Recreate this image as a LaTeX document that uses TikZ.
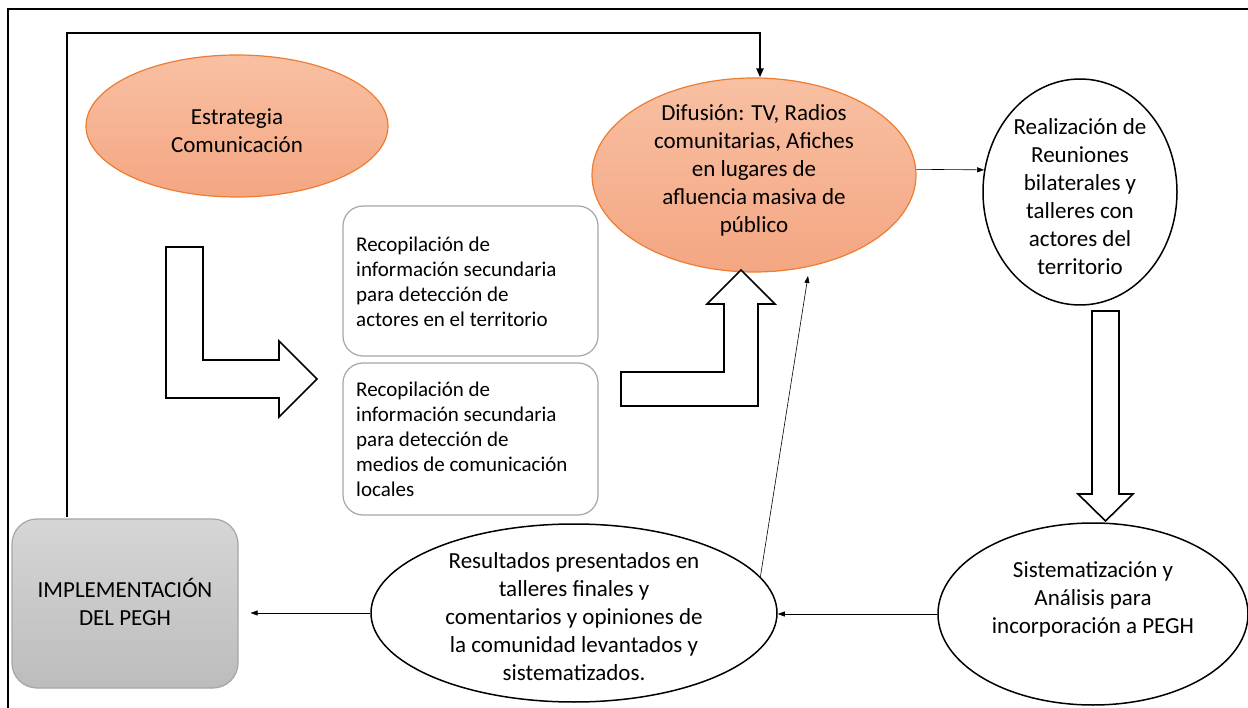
\documentclass[tikz,border=0pt]{standalone}
\usepackage{fontspec}
\setmainfont{Carlito}
\usetikzlibrary{arrows.meta,shapes.geometric}
\definecolor{ortop}{RGB}{248,192,163}
\definecolor{orbot}{RGB}{244,166,130}
\definecolor{orline}{RGB}{237,125,49}
\definecolor{gtop}{RGB}{214,214,214}
\definecolor{gbot}{RGB}{188,188,188}
\definecolor{gline}{RGB}{166,166,166}
\begin{document}
\begin{tikzpicture}[x=1pt,y=-1pt,
  orell/.style={ellipse,draw=orline,line width=1.2pt,top color=ortop,bottom color=orbot,inner sep=0pt},
  wellipse/.style={ellipse,draw=black,line width=1.5pt,fill=white,inner sep=0pt},
  txt/.style={align=center,font=\fontsize{23}{28}\selectfont,inner sep=0pt},
  boxtxt/.style={align=left,font=\fontsize{21}{25}\selectfont,inner sep=0pt,anchor=west},
  rbox/.style={draw=gline,line width=1.2pt,rounded corners=20pt,fill=white,inner sep=0pt},
  graybox/.style={draw=gline,line width=1.2pt,rounded corners=25pt,top color=gtop,bottom color=gbot,inner sep=0pt},
  thinarrow/.style={-{Triangle[length=7pt,width=5pt]},line width=0.6pt},
  boldarrow/.style={-{Triangle[length=9pt,width=7pt]},line width=2.6pt},
  blockarrow/.style={draw=black,line width=1.6pt,fill=white,line join=miter}
]
\useasboundingbox (0,0) rectangle (1248,708);
\fill[white] (0,0) rectangle (1248,708);
% outer frame
\draw[line width=1.5pt] (8,708) -- (8,9) -- (1248,9);

% ellipses
\node[orell,minimum width=302pt,minimum height=142pt] (est) at (237,126) {};
\node[txt] (est-t) at (237,131) {Estrategia\\Comunicación};

\node[orell,minimum width=324pt,minimum height=194pt] (dif) at (754,175) {};
\node[txt] (dif-t) at (754,170) {Difusión: TV, Radios\\comunitarias, Afiches\\en lugares de\\afluencia masiva de\\público};

\node[wellipse,minimum width=194pt,minimum height=226pt] (rea) at (1080,192) {};
\node[txt] (rea-t) at (1080,197) {Realización de\\Reuniones\\bilaterales y\\talleres con\\actores del\\territorio};

\node[wellipse,minimum width=310pt,minimum height=182pt] (sis) at (1093,614) {};
\node[txt] (sis-t) at (1093,599) {Sistematización y\\Análisis para\\incorporación a PEGH};

\node[wellipse,minimum width=406pt,minimum height=178pt] (res) at (574,613) {};
\node[txt] (res-t) at (574,617) {Resultados presentados en\\talleres finales y\\comentarios y opiniones de\\la comunidad levantados y\\sistematizados.};

% boxes
\node[rbox,minimum width=255pt,minimum height=150pt] (box1) at (470.5,281) {};
\node[boxtxt] (box1-t) at (356,282) {Recopilación de\\información secundaria\\para detección de\\actores en el territorio};
\node[rbox,minimum width=255pt,minimum height=152pt] (box2) at (470.5,439) {};
\node[boxtxt] (box2-t) at (356,439) {Recopilación de\\información secundaria\\para detección de\\medios de comunicación\\locales};

\node[graybox,minimum width=226pt,minimum height=169pt] (impl) at (125,603.5) {};
\node[txt] (impl-t) at (125,602) {IMPLEMENTACIÓN\\DEL PEGH};

% block arrows
\draw[blockarrow] (166,247) -- (203,247) -- (203,360) -- (279,360) -- (279,341) -- (317,379) -- (279,417) -- (279,398) -- (166,398) -- cycle;
\draw[blockarrow] (621,406) -- (621,372) -- (724,372) -- (724,304) -- (707,304) -- (741,270) -- (775,304) -- (758,304) -- (758,406) -- cycle;
\draw[blockarrow] (1092,311) -- (1119,311) -- (1119,494) -- (1133,494) -- (1105.5,521) -- (1078,494) -- (1092,494) -- cycle;

% connectors
\coordinate (loopstart) at (67,517);
\coordinate (loopcorner) at (67,33);
\coordinate (loopend) at (760,33);
\draw[boldarrow] (loopstart) -- (loopcorner) -- (loopend) -- (loopend |- dif.north);
\draw[thinarrow] (dif.2.5) -- (rea.167);
\draw[thinarrow] (sis.west) -- (sis.west -| res.east);
\draw[thinarrow,shorten >=12pt] (res.west) -- (res.west -| impl.east);
\coordinate (diagtip) at (808,276);
\draw[thinarrow] (res.11) -- (diagtip);
\end{tikzpicture}
\end{document}
